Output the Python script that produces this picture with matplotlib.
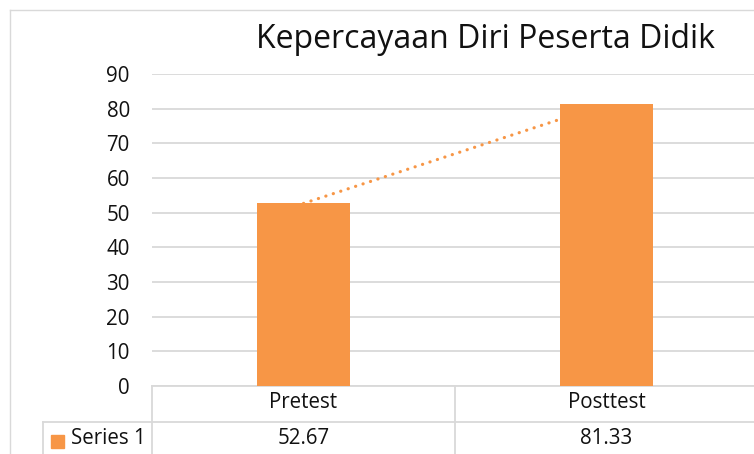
import numpy as np
import matplotlib
matplotlib.use("Agg")
import matplotlib.pyplot as plt
from matplotlib.patches import Rectangle

# data
categories = ["Pretest", "Posttest"]
values = [52.67, 81.33]
value_labels = ["52.67", "81.33"]
series_name = "Series 1"
title = "Kepercayaan Diri Peserta Didik"
yticks = list(range(0, 100, 10))

orange = "#F79646"
grid_col = "#D9D9D9"
txt_col = "#111111"
plt.rcParams['font.family'] = ['Open Sans', 'DejaVu Sans']

W, H = 754, 454
fig = plt.figure(figsize=(W / 100, H / 100), dpi=100)

# background axes in pixel coords for chart frame and data table
bg = fig.add_axes([0, 0, 1, 1])
bg.set_xlim(0, W)
bg.set_ylim(H, 0)
bg.axis("off")

# chart frame (cut off at right/bottom)
bg.plot([10, 10], [10, H + 5], color=grid_col, lw=1)
bg.plot([10, W + 5], [10, 10], color=grid_col, lw=1)

# plot area
x0, y_top, y_zero = 152, 74, 386
cat_w = 303
fs = 14.8
ax = fig.add_axes([x0 / W, (H - y_zero) / H, 2 * cat_w / W, (y_zero - y_top) / H])
ax.set_xlim(-0.5, len(categories) - 0.5)
ax.set_ylim(0, 90)
for s in ax.spines.values():
    s.set_visible(False)
ax.set_xticks([])
ax.set_yticks(yticks)
ax.set_yticklabels([str(t) for t in yticks], fontsize=fs, color=txt_col)
ax.tick_params(axis="y", length=0, pad=16)
ax.yaxis.grid(True, color=grid_col, lw=1.3)
ax.set_axisbelow(True)
ax.patch.set_alpha(0)

xs = np.arange(len(categories))
ax.bar(xs, values, width=0.31, color=orange, zorder=3)

# linear trendline
k, b = np.polyfit(xs, values, 1)
ax.plot(xs, k * xs + b, color=orange, lw=2.3, linestyle=(0, (0.05, 2.4)),
        dash_capstyle="round", zorder=2)

fig.text(485 / W, 1 - 39 / H, title, fontsize=23, color=txt_col,
         ha="center", va="center")

# data table
leg_x = 43
mid_x = x0 + cat_w
row1, row2 = y_zero, 422
bg.plot([x0, W + 5], [row1, row1], color=grid_col, lw=1.3)
bg.plot([leg_x, W + 5], [row2, row2], color=grid_col, lw=1.3)
bg.plot([x0, x0], [row1, H + 5], color=grid_col, lw=1.3)
bg.plot([mid_x, mid_x], [row1, H + 5], color=grid_col, lw=1.3)
bg.plot([leg_x, leg_x], [row2, H + 5], color=grid_col, lw=1.3)

for i, (c, v) in enumerate(zip(categories, value_labels)):
    cx = x0 + cat_w * (i + 0.5)
    bg.text(cx, 403, c, fontsize=fs, color=txt_col, ha="center", va="center")
    bg.text(cx, 439, v, fontsize=fs, color=txt_col, ha="center", va="center")

bg.add_patch(Rectangle((51, 435), 13, 13, color=orange))
bg.text(71, 439, series_name, fontsize=fs, color=txt_col, ha="left", va="center")

fig.savefig("out.png", dpi=100)
